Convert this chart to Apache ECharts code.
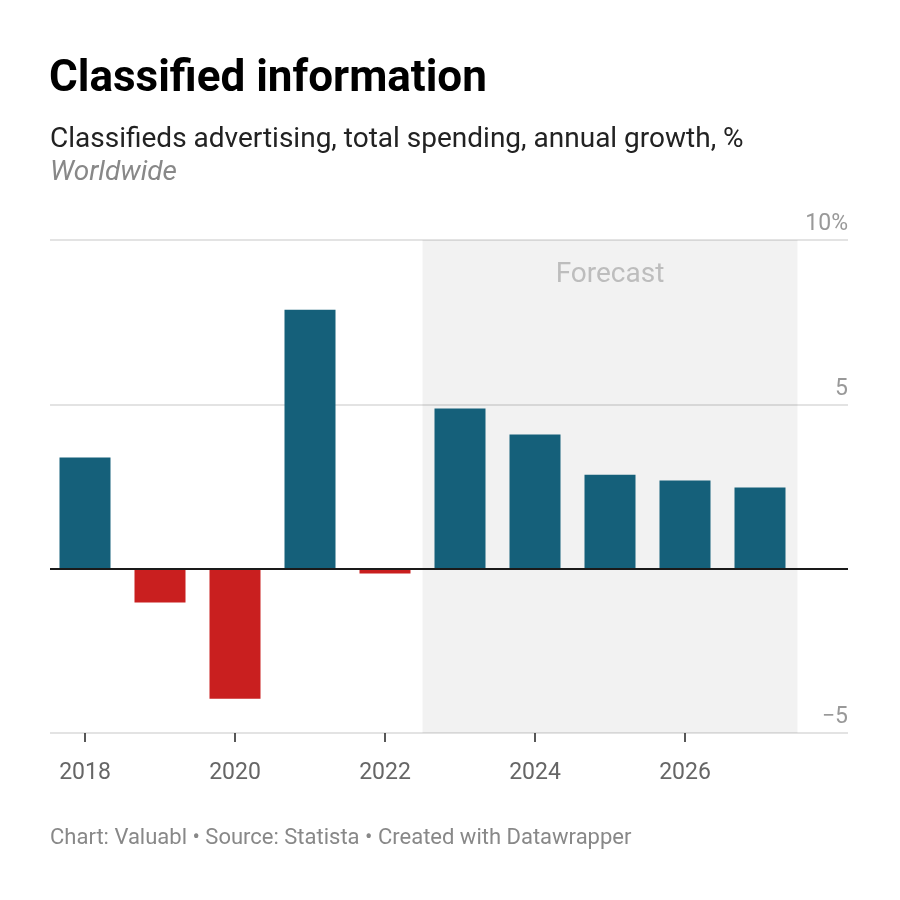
<!DOCTYPE html>
<html>
<head>
<meta charset="utf-8">
<script src="https://cdn.jsdelivr.net/npm/echarts@6/dist/echarts.min.js"></script>
<style>
html,body{margin:0;padding:0;background:#fff;}
#chart{width:900px;height:900px;}
</style>
</head>
<body>
<div id="chart"></div>
<script>
const years = [2018, 2019, 2020, 2021, 2022, 2023, 2024, 2025, 2026, 2027];
const growth = [3.38, -1.03, -3.96, 7.88, -0.15, 4.87, 4.08, 2.86, 2.68, 2.47];
const xTickLabels = [2018, 2020, 2022, 2024, 2026];
const yTicks = [-5, 0, 5, 10];
const forecastStart = 2022.5;
const forecastEnd = 2027.5;

const POS = '#15607a';
const NEG = '#c91f1f';
const FONT = 'Roboto, "Noto Sans", sans-serif';

const barData = years.map((y, i) => ({
  value: [y, growth[i]],
  itemStyle: { color: growth[i] >= 0 ? POS : NEG }
}));

const chart = echarts.init(document.getElementById('chart'), null, { renderer: 'canvas' });
chart.setOption({
  backgroundColor: '#fff',
  animation: false,
  textStyle: { fontFamily: FONT },
  title: [
    { text: 'Classified information', left: 49, top: 58, padding: 0,
      textStyle: { fontFamily: FONT, fontSize: 44, fontWeight: 'bold', color: '#000' } },
    { text: 'Classifieds advertising, total spending, annual growth, %', left: 50, top: 126, padding: 0,
      textStyle: { fontFamily: FONT, fontSize: 28, fontWeight: 'normal', color: '#222' } },
    { text: 'Worldwide', left: 50, top: 159, padding: 0,
      textStyle: { fontFamily: FONT, fontSize: 28, fontWeight: 'normal', fontStyle: 'italic', color: '#888' } },
    { text: 'Chart: Valuabl • Source: Statista • Created with Datawrapper', left: 50, top: 827, padding: 0,
      textStyle: { fontFamily: FONT, fontSize: 22, fontWeight: 'normal', color: '#888' } }
  ],
  grid: { left: 50, right: 52, top: 240, bottom: 167, containLabel: false },
  xAxis: {
    type: 'value',
    min: 2017.5333,
    max: 2028.1733,
    axisLine: { show: false, onZero: false },
    splitLine: { show: false },
    axisTick: { show: true, customValues: xTickLabels, length: 9, lineStyle: { color: '#222', width: 1.5 } },
    axisLabel: { show: true, customValues: xTickLabels, margin: 29, fontSize: 23, color: '#666', fontFamily: FONT,
      formatter: v => String(v) }
  },
  yAxis: {
    type: 'value',
    position: 'right',
    min: -5,
    max: 10,
    interval: 5,
    axisLine: { show: false },
    axisTick: { show: false },
    splitLine: { show: true, lineStyle: { color: '#e3e3e3', width: 2 } },
    axisLabel: {
      inside: true, margin: 0, fontSize: 23, color: '#999', fontFamily: FONT,
      verticalAlign: 'bottom', align: 'right', padding: [0, 0, 4, 0],
      formatter: v => v === 10 ? '10%' : (v < 0 ? '\u2212' + Math.abs(v) : (v === 0 ? '' : String(v)))
    }
  },
  series: [
    {
      type: 'bar',
      data: [],
      z: 1,
      silent: true,
      markArea: {
        silent: true,
        itemStyle: { color: 'rgba(0,0,0,0.052)' },
        label: { show: true, position: 'insideTop', distance: 21, color: '#bdbdbd', fontSize: 28, fontFamily: FONT },
        data: [[{ xAxis: forecastStart, name: 'Forecast' }, { xAxis: forecastEnd }]]
      }
    },
    {
      type: 'bar',
      data: barData,
      barWidth: 51,
      z: 2,
      markLine: {
        silent: true,
        symbol: 'none',
        label: { show: false },
        lineStyle: { color: '#1a1a1a', width: 2, type: 'solid' },
        data: [{ yAxis: 0 }]
      }
    }
  ]
});
</script>
</body>
</html>
